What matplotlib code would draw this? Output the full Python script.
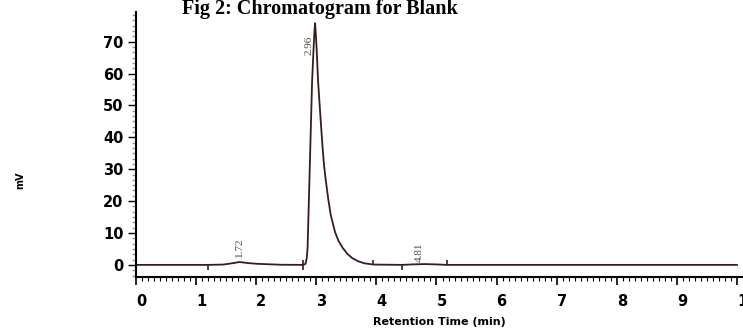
import matplotlib
matplotlib.use("Agg")
import matplotlib.pyplot as plt
from matplotlib.ticker import MultipleLocator, AutoMinorLocator

# trace (time in min, signal in mV)
t = [0.0, 1.2, 1.45, 1.6, 1.72, 1.85, 2.0, 2.2, 2.4, 2.78, 2.82, 2.84, 2.855,
     2.87, 2.885, 2.9, 2.915, 2.93, 2.955, 2.97, 2.98, 2.99, 3.005, 3.03,
     3.067, 3.105, 3.13, 3.16, 3.2, 3.24, 3.31, 3.37, 3.44, 3.52, 3.6, 3.7,
     3.8, 3.95, 4.43, 4.6, 4.8, 5.0, 5.17, 10.0]
mv = [0.0, 0.0, 0.1, 0.5, 0.9, 0.6, 0.35, 0.2, 0.05, 0.0, 0.3, 2.0, 5.3,
      15.7, 26.0, 36.7, 47.0, 57.5, 68.0, 73.5, 75.8, 73.0, 68.0, 57.5,
      47.0, 36.7, 31.0, 26.2, 20.5, 15.7, 10.4, 7.5, 5.3, 3.4, 2.1, 1.1,
      0.5, 0.1, 0.0, 0.15, 0.25, 0.15, 0.0, 0.0]

# integration event marks: time, low end, high end
mark_t = [1.2, 2.78, 3.95, 4.43, 5.17]
mark_lo = [-1.6, -1.6, 0.0, -1.6, 0.0]
mark_hi = [0.0, 1.6, 1.6, 0.0, 1.6]

# retention time labels
peak_t = [1.72, 2.88, 4.72]
peak_y = [5.5, 69.0, 4.0]
peak_lab = ["1.72", "2.96", "4.81"]

col = "#3b1c1c"

fig = plt.figure(figsize=(7.43, 3.28), dpi=100)
ax = fig.add_axes([136 / 743, 1 - 277 / 328, 1 - 136 / 743, (277 - 12) / 328])

ax.plot(t, mv, color=col, lw=1.3)
ax.vlines(mark_t, mark_lo, mark_hi, color=col, lw=1.2)
for x, y, s in zip(peak_t, peak_y, peak_lab):
    ax.text(x, y, s, rotation=90, ha="center", va="center", fontsize=8,
            color="#5a4646", family="Liberation Serif")

ax.set_xlim(0, 10.1)
ax.set_ylim(-3.8, 79.3)

for s in ["top", "right"]:
    ax.spines[s].set_visible(False)
ax.spines["left"].set_linewidth(1.5)
ax.spines["bottom"].set_linewidth(1.5)

ax.xaxis.set_major_locator(MultipleLocator(1))
ax.xaxis.set_minor_locator(MultipleLocator(0.1))
ax.yaxis.set_minor_locator(AutoMinorLocator(6))
ax.set_yticks(range(0, 80, 10))

ax.tick_params(axis="x", which="major", direction="out", length=6, width=1.2, pad=6)
ax.tick_params(axis="x", which="minor", direction="out", length=3, width=0.8)
ax.tick_params(axis="y", which="major", direction="out", length=6, width=1.0, pad=3)
ax.tick_params(axis="y", which="minor", direction="out", length=3, width=1.0, color="#999999")

for lb in ax.get_xticklabels():
    lb.set_fontweight("bold")
    lb.set_fontsize(10.5)
    lb.set_horizontalalignment("left")
for lb in ax.get_yticklabels():
    lb.set_fontweight("bold")
    lb.set_fontsize(10.5)

ax.set_xlabel("Retention Time (min)", fontsize=8, fontweight="bold", labelpad=6)
fig.text(20 / 743, 1 - 180 / 328, "mV", rotation=90, fontsize=7, fontweight="bold",
         ha="center", va="center")

fig.text(320 / 743, 1 - 14 / 328, "Fig 2: Chromatogram for Blank", fontsize=14.5,
         fontweight="bold", family="Liberation Serif", ha="center", va="baseline")

fig.savefig("out.png", dpi=100)
